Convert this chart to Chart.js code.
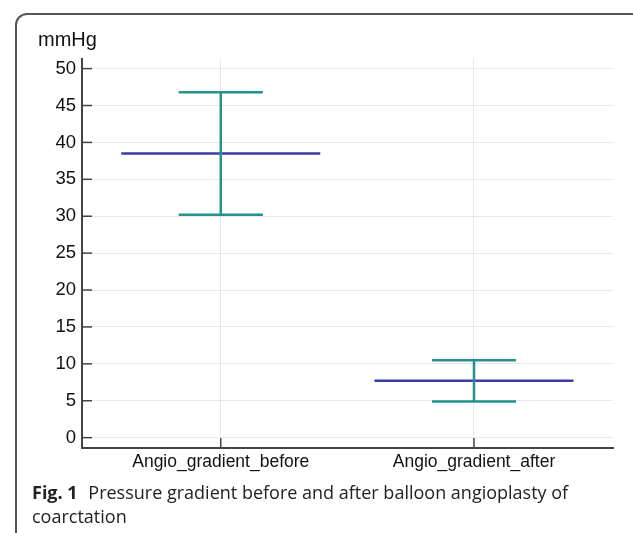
<!DOCTYPE html>
<html>
<head>
<meta charset="utf-8">
<script src="https://cdn.jsdelivr.net/npm/chart.js@4"></script>
<style>
  body { margin: 0; background: #fff; }
  #wrap { position: relative; width: 633px; height: 533px; overflow: hidden; }
  #frame {
    position: absolute; left: 15px; top: 13px; width: 640px; height: 540px;
    border: 2px solid #555; border-radius: 12px; box-sizing: border-box;
  }
  #chart { position: absolute; left: 0; top: 0; }
  #caption {
    position: absolute; left: 32px; top: 480px; width: 590px;
    font-family: "Open Sans", sans-serif; font-size: 18px; line-height: 24px; color: #222;
  }
  #caption b { font-weight: 700; margin-right: 6px; }
</style>
</head>
<body>
<div id="wrap">
  <div id="frame"></div>
  <canvas id="chart" width="633" height="533"></canvas>
  <div id="caption"><b>Fig. 1</b> Pressure gradient before and after balloon angioplasty of coarctation</div>
</div>
<script>
const categories = ["Angio_gradient_before", "Angio_gradient_after"];
const means = [38.5, 7.7];
const upper = [46.8, 10.5];
const lower = [30.2, 4.9];
const yTicks = [0, 5, 10, 15, 20, 25, 30, 35, 40, 45, 50];

const meanHalf = 0.393;
const capHalf = 0.166;
const blue = "#3b3aa6";
const teal = "#23918c";

const datasets = [];
categories.forEach((c, i) => {
  datasets.push({
    data: [{ x: i - meanHalf, y: means[i] }, { x: i + meanHalf, y: means[i] }],
    borderColor: blue, borderWidth: 2.5, order: 2,
  });
  datasets.push({
    data: [{ x: i, y: lower[i] }, { x: i, y: upper[i] }],
    borderColor: teal, borderWidth: 2.5, order: 1,
  });
  datasets.push({
    data: [{ x: i - capHalf, y: upper[i] }, { x: i + capHalf, y: upper[i] }],
    borderColor: teal, borderWidth: 2.5, order: 1,
  });
  datasets.push({
    data: [{ x: i - capHalf, y: lower[i] }, { x: i + capHalf, y: lower[i] }],
    borderColor: teal, borderWidth: 2.5, order: 1,
  });
});

// short tick marks pointing into the plot
const innerTicks = {
  id: "innerTicks",
  afterDraw(chart) {
    const { ctx, chartArea, scales } = chart;
    ctx.save();
    ctx.strokeStyle = "#444";
    ctx.lineWidth = 1.5;
    yTicks.forEach((v) => {
      const y = scales.y.getPixelForValue(v);
      ctx.beginPath();
      ctx.moveTo(chartArea.left, y);
      ctx.lineTo(chartArea.left + 10, y);
      ctx.stroke();
    });
    categories.forEach((c, i) => {
      const x = scales.x.getPixelForValue(i);
      ctx.beginPath();
      ctx.moveTo(x, chartArea.bottom);
      ctx.lineTo(x, chartArea.bottom - 10);
      ctx.stroke();
    });
    ctx.restore();
  },
};

new Chart(document.getElementById("chart"), {
  type: "scatter",
  data: { datasets },
  plugins: [innerTicks],
  options: {
    responsive: false,
    animation: false,
    showLine: true,
    elements: { point: { radius: 0, hoverRadius: 0 }, line: { borderCapStyle: "butt" } },
    layout: { padding: { left: 38, right: 20, top: 0, bottom: 55 } },
    plugins: {
      legend: { display: false },
      tooltip: { enabled: false },
      title: {
        display: true,
        text: "mmHg",
        align: "start",
        color: "#111",
        font: { family: "Liberation Sans, Arial, sans-serif", size: 20, weight: "normal" },
        padding: { top: 28, bottom: 7 },
      },
    },
    scales: {
      x: {
        type: "linear",
        min: -0.548,
        max: 1.549,
        afterBuildTicks: (scale) => { scale.ticks = categories.map((c, i) => ({ value: i })); },
        afterFit: (scale) => { scale.height = 30; },
        ticks: {
          callback: (v) => categories[v],
          color: "#111",
          padding: 4,
          maxRotation: 0,
          font: { family: "Liberation Sans, Arial, sans-serif", size: 17.5 },
        },
        grid: { color: "#e8e8e8", lineWidth: 1, drawTicks: false },
        border: { color: "#444", width: 2 },
      },
      y: {
        min: -1.4,
        max: 51.3,
        afterBuildTicks: (scale) => { scale.ticks = yTicks.map((v) => ({ value: v })); },
        afterFit: (scale) => { scale.width = 44; },
        ticks: {
          color: "#111",
          padding: 6,
          font: { family: "Liberation Sans, Arial, sans-serif", size: 18.5 },
        },
        grid: { color: "#e8e8e8", lineWidth: 1, drawTicks: false },
        border: { color: "#444", width: 2 },
      },
    },
  },
});
</script>
</body>
</html>
